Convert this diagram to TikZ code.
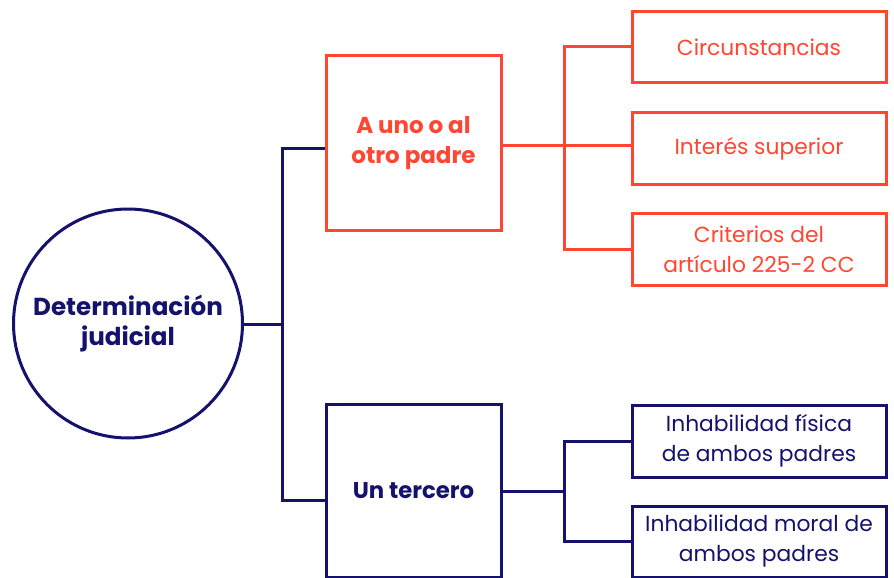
\documentclass[tikz,border=0pt]{standalone}
\usepackage{fontspec}
\setmainfont{Poppins}
\usetikzlibrary{positioning}
\definecolor{rojo}{RGB}{255,70,50}
\definecolor{azul}{RGB}{20,18,108}
\tikzset{
  caja/.style={line width=3pt,fill=white,align=center,inner sep=0pt},
  cajaR/.style={caja,draw=rojo,text=rojo,minimum width=254pt,minimum height=72pt,font=\fontsize{21.8}{30}\selectfont},
  cajaA/.style={caja,draw=azul,text=azul,minimum width=254pt,minimum height=72pt,font=\fontsize{21.8}{30}\selectfont},
  rama/.style={line width=3pt}
}
\begin{document}
\begin{tikzpicture}[x=1pt,y=-1pt]
\useasboundingbox (0,0) rectangle (894,578);
% raiz
\node[draw=azul,line width=3pt,circle,minimum size=229pt,inner sep=0pt,align=center,
  text=azul,font=\bfseries\fontsize{24.6}{30}\selectfont] (det) at (128,323.5) {Determinación\\judicial};
\coordinate (tronco) at (282,324);
\draw[rama,draw=azul] (det.east |- tronco) -- (tronco);
\draw[rama,draw=azul,line cap=rect] (282,148) -- (282,500);
% primer nivel
\node[caja,draw=rojo,text=rojo,minimum width=175pt,minimum height=174pt,
  font=\bfseries\fontsize{23}{30}\selectfont] (padre) at (413.5,143) {A uno o al\\otro padre};
\node[caja,draw=azul,text=azul,minimum width=175pt,minimum height=173pt,
  font=\bfseries\fontsize{22.8}{30}\selectfont] (tercero) at (413.5,490.5) {Un tercero};
\draw[rama,draw=azul] (282,148) -- (padre.west |- 0,148);
\draw[rama,draw=azul] (282,500) -- (tercero.west |- 0,500);
% criterios
\node[cajaR,minimum height=71pt] (circ) at (759,47) {Circunstancias};
\node[cajaR] (inter) at (759,148.5) {Interés superior};
\node[cajaR] (crit) at (759,249.5) {Criterios del\\artículo 225-2 CC};
\coordinate (nudoR) at (564,145);
\draw[rama,draw=rojo] (padre.east |- nudoR) -- (nudoR);
\draw[rama,draw=rojo] (circ.west) -| (nudoR) |- (crit.west);
\draw[rama,draw=rojo] (nudoR) -- (inter.west |- nudoR);
% inhabilidad
\node[cajaA] (fisica) at (759,441) {Inhabilidad física\\de ambos padres};
\node[cajaA,minimum height=71pt] (moral) at (759,541.5) {Inhabilidad moral de\\ambos padres};
\coordinate (nudoA) at (564,491);
\draw[rama,draw=azul] (tercero.east |- nudoA) -- (nudoA);
\draw[rama,draw=azul] (fisica.west) -| (nudoA) |- (moral.west);
\end{tikzpicture}
\end{document}
